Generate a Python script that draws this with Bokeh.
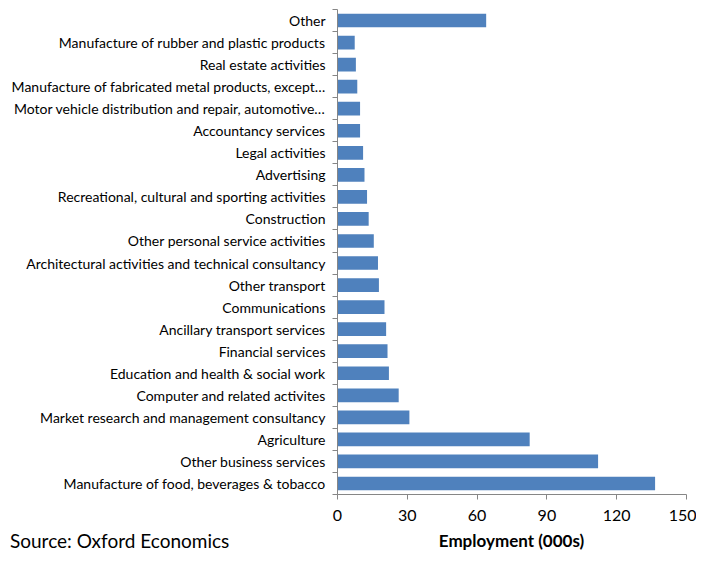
from bokeh.plotting import figure
from bokeh.models import ColumnDataSource, FixedTicker, Range1d, Div
from bokeh.layouts import column, row
from bokeh.embed import file_html
from bokeh.resources import INLINE

categories = [
    "Manufacture of food, beverages & tobacco",
    "Other business services",
    "Agriculture",
    "Market research and management consultancy",
    "Computer and related activites",
    "Education and health & social work",
    "Financial services",
    "Ancillary transport services",
    "Communications",
    "Other transport",
    "Architectural activities and technical consultancy",
    "Other personal service activities",
    "Construction",
    "Recreational, cultural and sporting activities",
    "Advertising",
    "Legal activities",
    "Accountancy services",
    "Motor vehicle distribution and repair, automotive\u2026",
    "Manufacture of fabricated metal products, except\u2026",
    "Real estate activities",
    "Manufacture of rubber and plastic products",
    "Other",
]
employment = [136.5, 112.0, 82.6, 30.9, 26.3, 22.1, 21.5, 20.9, 20.2, 17.8, 17.4,
              15.6, 13.4, 12.7, 11.6, 11.0, 9.7, 9.7, 8.5, 7.9, 7.4, 63.9]
x_ticks = [0, 30, 60, 90, 120, 150]
x_title = "Employment (000s)"
source_note = "Source: Oxford Economics"

FONT = "Lato"
GRAY = "#868686"

pos = list(range(len(categories)))
src = ColumnDataSource(dict(y=pos, right=employment, name=categories))

fig = figure(width=696, height=528, output_backend="svg", toolbar_location=None,
             x_range=Range1d(0, 150), y_range=Range1d(-0.5, len(categories) - 0.5),
             min_border_left=337, min_border_right=10, min_border_top=9, min_border_bottom=34)
fig.outline_line_color = None
fig.xgrid.visible = False
fig.ygrid.visible = False

fig.hbar(y="y", left=0, right="right", height=0.62, source=src,
         fill_color="#4F81BD", line_color=None)

# x axis
xa = fig.xaxis[0]
xa.ticker = FixedTicker(ticks=x_ticks, minor_ticks=[])
xa.axis_line_color = GRAY
xa.major_tick_line_color = GRAY
xa.major_tick_out = 5
xa.major_tick_in = 0
xa.minor_tick_line_color = None
xa.major_label_text_font = FONT
xa.major_label_text_font_size = "16px"
xa.major_label_text_color = "#000000"
xa.major_label_standoff = 10

# y axis
ya = fig.yaxis[0]
ya.ticker = FixedTicker(ticks=pos, minor_ticks=[i - 0.5 for i in range(len(categories) + 1)])
ya.major_label_overrides = {i: c for i, c in zip(pos, categories)}
ya.axis_line_color = GRAY
ya.major_tick_line_color = None
ya.major_tick_out = 0
ya.major_tick_in = 0
ya.minor_tick_line_color = GRAY
ya.minor_tick_out = 5
ya.minor_tick_in = 0
ya.major_label_text_font = FONT
ya.major_label_text_font_size = "14px"
ya.major_label_text_color = "#000000"
ya.major_label_standoff = 7

src_div = Div(text=source_note, width=337, height=25, margin=(0, 0, 0, 0),
              styles={"font-family": "Lato", "font-size": "19px", "color": "#000000",
                      "padding-left": "10px", "line-height": "25px", "white-space": "nowrap",
                      "box-sizing": "border-box"})
title_div = Div(text=x_title, width=349, height=25, margin=(0, 0, 0, 0),
                styles={"font-family": "Lato", "font-size": "17px", "font-weight": "bold",
                        "color": "#000000", "text-align": "center", "line-height": "25px",
                        "white-space": "nowrap"})

p = column(fig, row(src_div, title_div, spacing=0), spacing=0)

open("out.html", "w").write(file_html(p, INLINE))
